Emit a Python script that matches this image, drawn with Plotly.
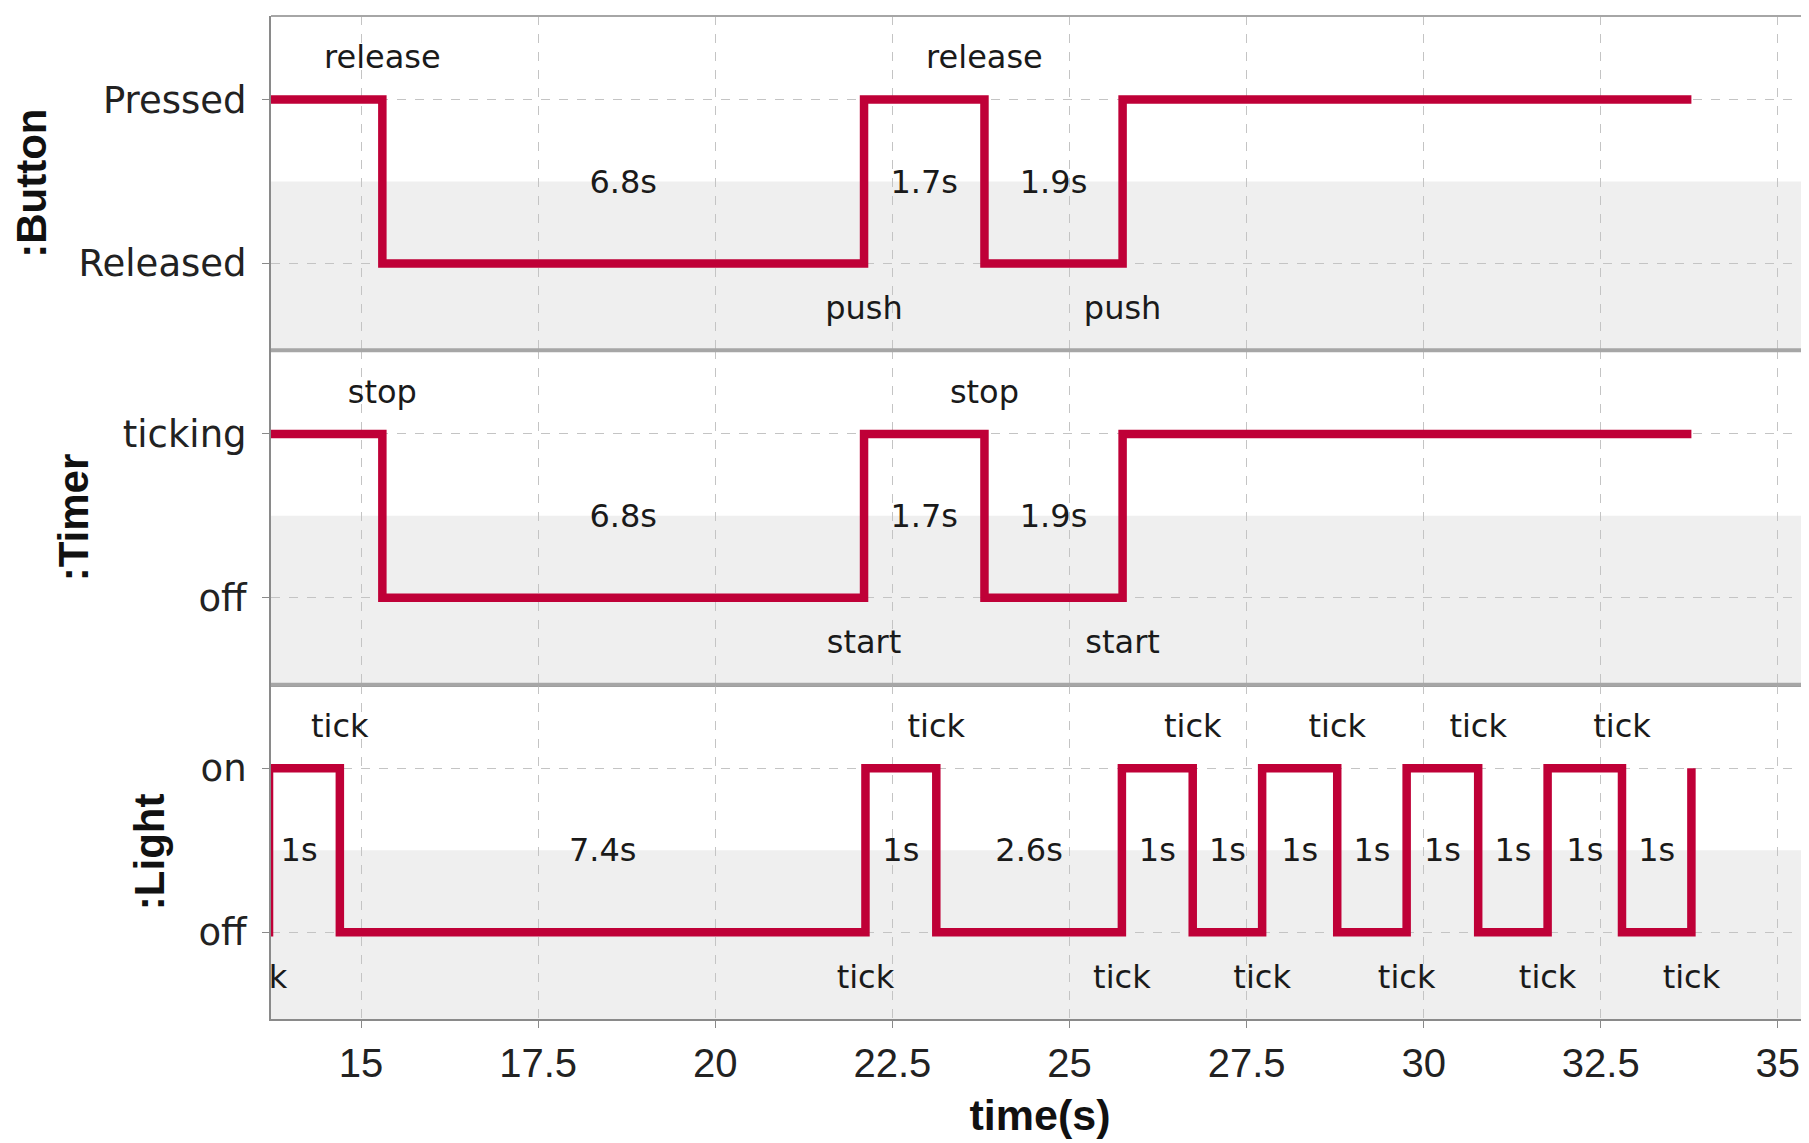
import plotly.graph_objects as go
from plotly.subplots import make_subplots

# Time axis
x_range = [13.728, 35.44]
x_ticks = [15, 17.5, 20, 22.5, 25, 27.5, 30, 32.5, 35]

# :Button lifeline (transition times and state after each)
button_t = [13.7, 15.3, 22.1, 23.8, 25.75, 33.78]
button_v = [1, 0, 1, 0, 1, 1]
button_states = ["Released", "Pressed"]
button_event_t = [15.3, 22.1, 23.8, 25.75]
button_events = ["release", "push", "release", "push"]
button_durations = ["6.8s", "1.7s", "1.9s"]

# :Timer lifeline
timer_t = [13.7, 15.3, 22.1, 23.8, 25.75, 33.78]
timer_v = [1, 0, 1, 0, 1, 1]
timer_states = ["off", "ticking"]
timer_event_t = [15.3, 22.1, 23.8, 25.75]
timer_events = ["stop", "start", "stop", "start"]
timer_durations = ["6.8s", "1.7s", "1.9s"]

# :Light lifeline
light_t = [13.6, 13.7, 14.7, 22.12, 23.12, 25.74, 26.74, 27.72, 28.78, 29.76, 30.77, 31.75, 32.8, 33.78]
light_v = [0, 1, 0, 1, 0, 1, 0, 1, 0, 1, 0, 1, 0, 1]
light_states = ["off", "on"]
light_event_t = [13.55, 14.7, 22.12, 23.12, 25.74, 26.74, 27.72, 28.78, 29.76, 30.77, 31.75, 32.8, 33.78]
light_events = ["tick"] * 13
light_durations = ["1s", "7.4s", "1s", "2.6s", "1s", "1s", "1s", "1s", "1s", "1s", "1s", "1s"]

lanes = [
    (":Button", button_t, button_v, button_states, button_event_t, button_events, button_durations),
    (":Timer", timer_t, timer_v, timer_states, timer_event_t, timer_events, timer_durations),
    (":Light", light_t, light_v, light_states, light_event_t, light_events, light_durations),
]

RED = "#bf0037"
y_range = [-0.53, 1.51]
label_font = dict(family="DejaVu Sans", size=32, color="#1a1a1a")

fig = make_subplots(rows=3, cols=1, shared_xaxes=True, vertical_spacing=0)

for i, (name, t, v, states, ev_t, ev, durs) in enumerate(lanes, start=1):
    fig.add_trace(go.Scatter(x=t, y=v, mode="lines", line=dict(color=RED, width=8.5, shape="hv"),
                             hoverinfo="skip", showlegend=False), row=i, col=1)

    # event labels: above on falling edges, below on rising edges
    ev_y = []
    for k, tt in enumerate(ev_t):
        new_level = v[t.index(tt)] if tt in t else 1
        ev_y.append(1.24 if new_level == 0 else -0.29)
    fig.add_trace(go.Scatter(x=ev_t, y=ev_y, mode="text", text=ev, textfont=label_font,
                             cliponaxis=True, hoverinfo="skip", showlegend=False), row=i, col=1)

    # durations centred between consecutive transitions
    mid = [(a + b) / 2 for a, b in zip(ev_t[:-1], ev_t[1:])]
    fig.add_trace(go.Scatter(x=mid, y=[0.48] * len(mid), mode="text", text=durs, textfont=label_font,
                             cliponaxis=True, hoverinfo="skip", showlegend=False), row=i, col=1)

    sfx = "" if i == 1 else str(i)
    # grey lower half of each lane
    fig.add_shape(type="rect", xref=f"x{sfx} domain", yref=f"y{sfx}", x0=0, x1=1,
                  y0=y_range[0], y1=0.5, fillcolor="#efefef", line_width=0, layer="below")

    fig.update_yaxes(row=i, col=1, range=y_range, tickvals=[0, 1], ticktext=states,
                     showgrid=True, gridcolor="#c4c4c4", griddash="dash", gridwidth=1,
                     zeroline=False, showline=True, linecolor="#8a8a8a", linewidth=2,
                     ticks="outside", ticklen=7, tickcolor="#8a8a8a", ticklabelstandoff=8,
                     tickfont=dict(family="DejaVu Sans", size=37, color="#222"),
                     title=dict(text=name, standoff=21,
                                font=dict(family="Liberation Sans", size=42, color="#111", weight="bold")))

fig.update_xaxes(range=x_range, tickvals=x_ticks, showgrid=True, gridcolor="#c4c4c4",
                 griddash="dash", gridwidth=1, zeroline=False, showline=True,
                 linecolor="#8a8a8a", linewidth=2, ticks="outside", ticklen=7, tickcolor="#8a8a8a")
fig.update_xaxes(row=3, col=1, ticklabelstandoff=1,
                 tickfont=dict(family="Liberation Sans", size=40, color="#222"),
                 title=dict(text="time(s)", standoff=16,
                            font=dict(family="Liberation Sans", size=43, color="#111", weight="bold")))

# lane separators and top border
for yy, w in [(1 / 3, 4), (2 / 3, 4), (1, 2)]:
    fig.add_shape(type="line", xref="paper", yref="paper", x0=0, x1=1, y0=yy, y1=yy,
                  line=dict(color="#a6a6a6", width=w))

# page body has an 8px margin, so the figure is sized to fit the window
fig.update_layout(width=1801, height=1135, margin=dict(l=263, r=0, t=8, b=124),
                  plot_bgcolor="white", paper_bgcolor="white", showlegend=False)

fig.write_html("out.html")
